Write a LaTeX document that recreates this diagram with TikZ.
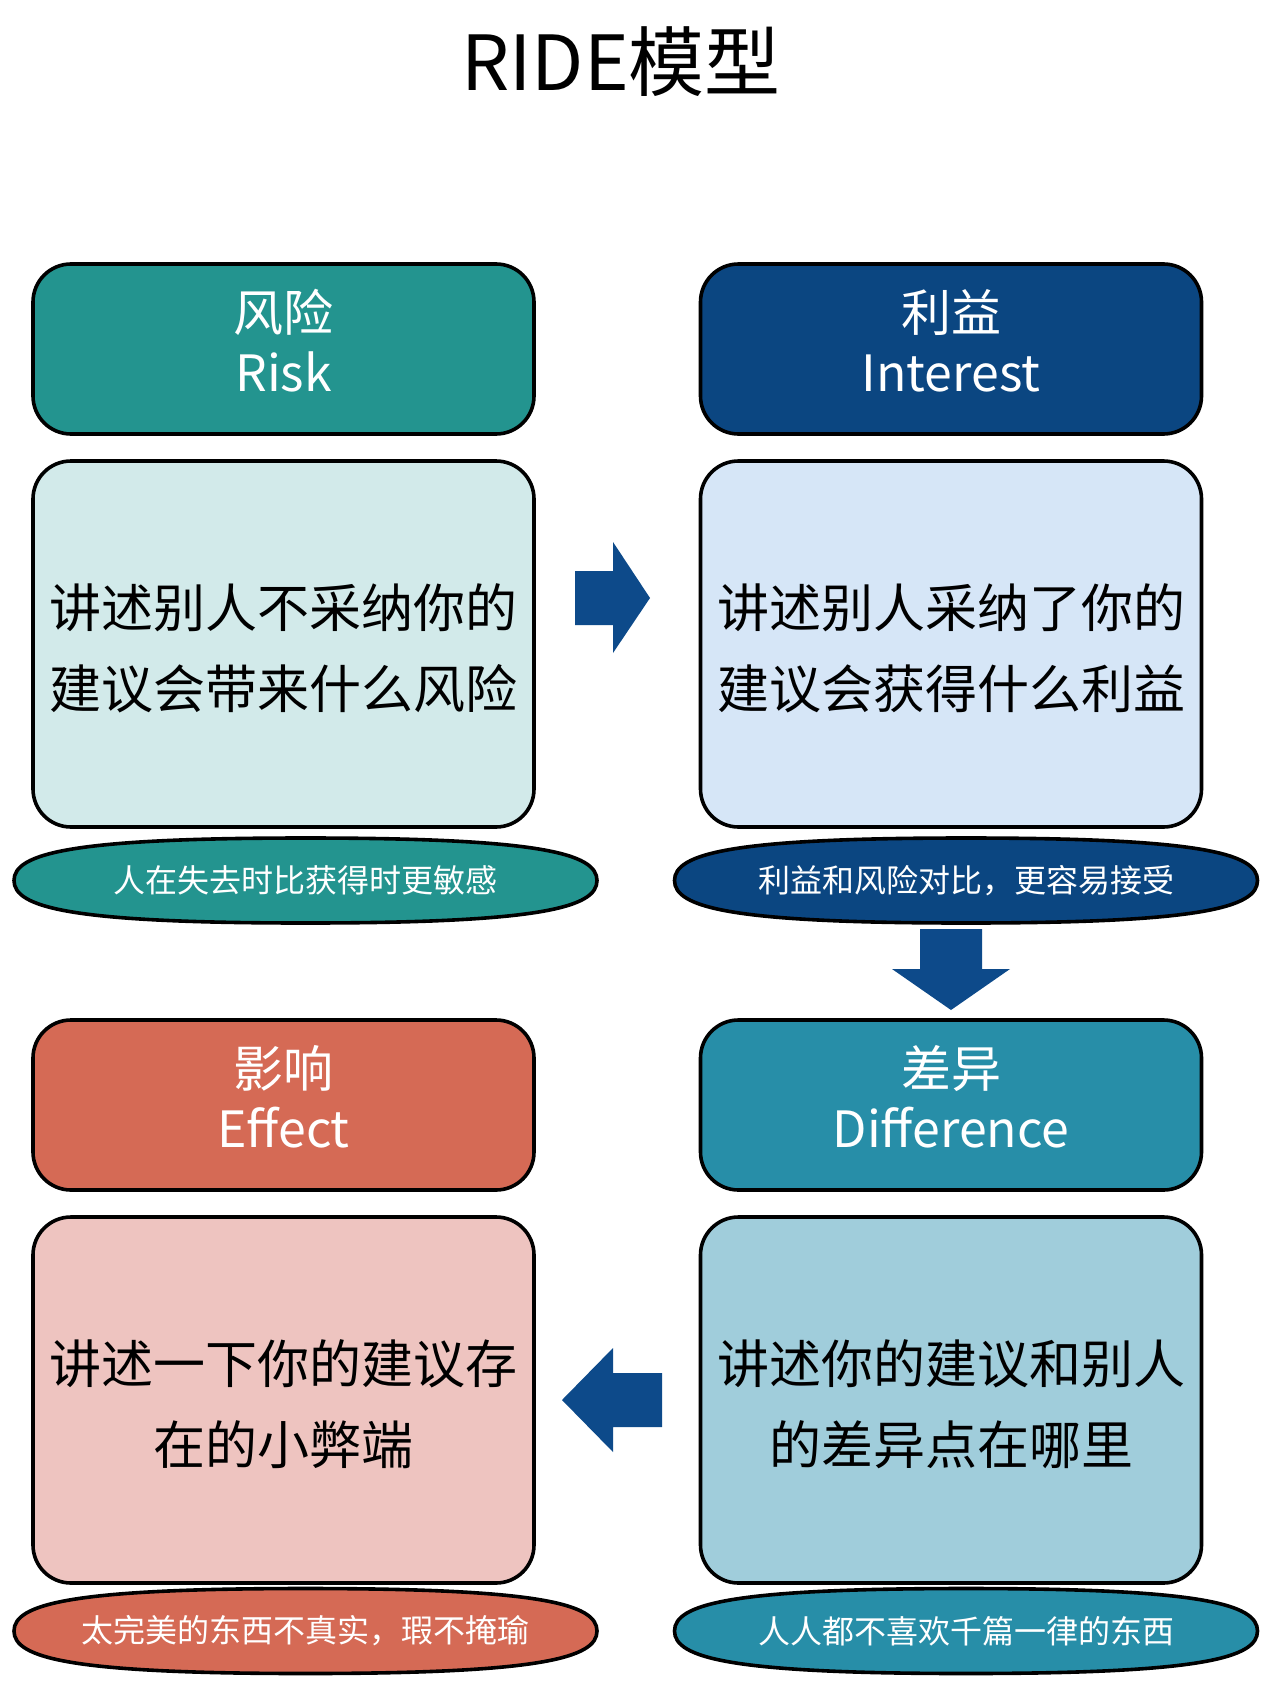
\documentclass[tikz,border=0pt]{standalone}
\usepackage{fontspec}
\setmainfont{Noto Sans CJK SC}

\definecolor{riskC}{HTML}{23948F}
\definecolor{riskL}{HTML}{D2EAEA}
\definecolor{intC}{HTML}{0B4681}
\definecolor{intL}{HTML}{D6E6F7}
\definecolor{effC}{HTML}{D56A55}
\definecolor{effL}{HTML}{EEC4C0}
\definecolor{difC}{HTML}{278EA8}
\definecolor{difL}{HTML}{A0CDDB}
\definecolor{arrowC}{HTML}{0D4A8A}

\tikzset{
  hdr/.style={draw=black, line width=1.8pt, rounded corners=19pt,
    minimum width=250.5pt, minimum height=85pt, inner sep=0pt,
    text=white, align=center, font=\fontsize{25}{30}\selectfont},
  bodybox/.style={draw=black, line width=1.8pt, rounded corners=19pt,
    minimum width=250.5pt, minimum height=183pt, inner sep=0pt,
    text=black, align=center, font=\fontsize{26}{40.5}\selectfont},
  notetext/.style={inner sep=0pt, text=white, font=\fontsize{16}{16}\selectfont},
  pill/.style={draw=black, line width=1.8pt},
  blockarrow/.style={fill=arrowC, draw=none}
}

% two centred lines, moved up or down by #1 while keeping their box size
\newcommand\twolines[3]{\raisebox{#1}[\height][\depth]{\begin{tabular}{@{}c@{}}#2\\#3\end{tabular}}}

% flattened oval around a named centre (half width 291.5, half height 42.5)
\newcommand\ovalat[2]{%
  \draw[pill, fill=#2, shift={(#1)}]
    (-291.5,0) .. controls (-291.5,-27) and (-235,-42.5) .. (0,-42.5)
    .. controls (235,-42.5) and (291.5,-27) .. (291.5,0)
    .. controls (291.5,27) and (235,42.5) .. (0,42.5)
    .. controls (-235,42.5) and (-291.5,27) .. cycle;}

\begin{document}
\begin{tikzpicture}[x=0.5pt, y=-0.5pt]
  \useasboundingbox[fill=white] (0,0) rectangle (1270,1702);

  % title
  \node[font=\fontsize{38}{40}\selectfont] (title) at (621,62) {RIDE模型};

  % Risk
  \node[hdr, fill=riskC] (rH) at (283.5,349) {\twolines{0pt}{风险}{Risk}};
  \node[bodybox, fill=riskL] (rB) at (283.5,644)
    {\twolines{-3.8pt}{讲述别人不采纳你的}{建议会带来什么风险}};
  \coordinate (rNc) at (305.5,880.5);
  \ovalat{rNc}{riskC}
  \node[notetext] (rN) at (rNc) {人在失去时比获得时更敏感};

  % Interest
  \node[hdr, fill=intC] (iH) at (951,349) {\twolines{0pt}{利益}{Interest}};
  \node[bodybox, fill=intL] (iB) at (951,644)
    {\twolines{-3.8pt}{讲述别人采纳了你的}{建议会获得什么利益}};
  \coordinate (iNc) at (966,880.5);
  \ovalat{iNc}{intC}
  \node[notetext] (iN) at (iNc) {利益和风险对比，更容易接受};

  % Effect
  \node[hdr, fill=effC] (eH) at (283.5,1105) {\twolines{0pt}{影响}{Effect}};
  \node[bodybox, fill=effL] (eB) at (283.5,1400)
    {\twolines{-3.8pt}{讲述一下你的建议存}{在的小弊端}};
  \coordinate (eNc) at (305.5,1631);
  \ovalat{eNc}{effC}
  \node[notetext] (eN) at (eNc) {太完美的东西不真实，瑕不掩瑜};

  % Difference
  \node[hdr, fill=difC] (dH) at (951,1105) {\twolines{0pt}{差异}{Difference}};
  \node[bodybox, fill=difL] (dB) at (951,1400)
    {\twolines{-3.8pt}{讲述你的建议和别人}{的差异点在哪里}};
  \coordinate (dNc) at (966,1631);
  \ovalat{dNc}{difC}
  \node[notetext] (dN) at (dNc) {人人都不喜欢千篇一律的东西};

  % flow arrows: Risk -> Interest -> Difference -> Effect
  \fill[blockarrow] (575,571) -- (613,571) -- (613,542) -- (650,598)
    -- (613,653) -- (613,625) -- (575,625) -- cycle;
  \fill[blockarrow] (920,929) -- (982,929) -- (982,969) -- (1010,969)
    -- (951,1010) -- (892,969) -- (920,969) -- cycle;
  \fill[blockarrow] (662,1373) -- (613,1373) -- (613,1348) -- (562,1400)
    -- (613,1452) -- (613,1427) -- (662,1427) -- cycle;
\end{tikzpicture}
\end{document}
